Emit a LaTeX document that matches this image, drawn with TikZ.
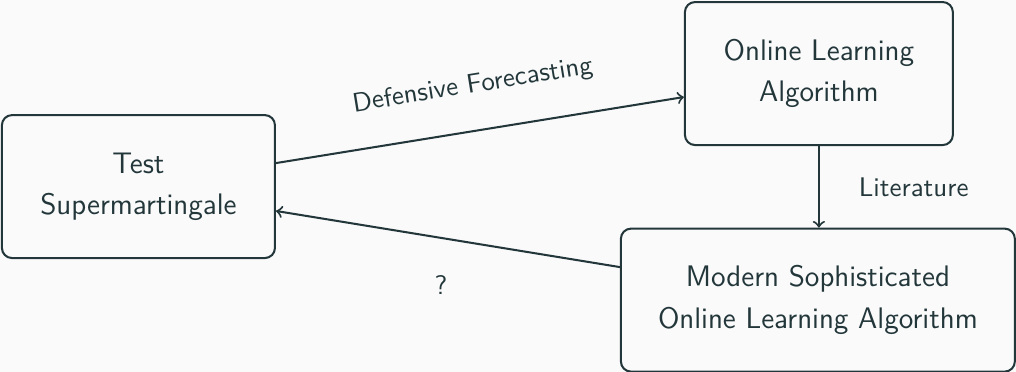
\documentclass[tikz,border=0pt]{standalone}
\usepackage{fontspec}
\usetikzlibrary{arrows}
\definecolor{mDarkTeal}{HTML}{23373B}
\definecolor{mBackground}{HTML}{FAFAFA}
\begin{document}
\begin{tikzpicture}[->,>=to,auto,thick,draw=mDarkTeal,text=mDarkTeal,font=\sffamily\fontsize{10.6}{13}\selectfont]
  \tikzstyle{box}=[draw=mDarkTeal,rounded corners=4pt,align=center,minimum height=56.3pt,
                   font=\sffamily\fontsize{11.7}{16.3}\selectfont]

  \fill[mBackground,-] (0,0) rectangle (400pt,146.46pt);
  \useasboundingbox (0,0) rectangle (400pt,146.46pt);

  \node[box,minimum width=107.5pt] (TS)    at (54.5pt,73pt)    {Test\\Supermartingale};
  \node[box,minimum width=105.5pt] (OLA)   at (322.4pt,117.5pt) {Online Learning\\Algorithm};
  \node[box,minimum width=155.1pt] (MSOLA) at (322pt,28.3pt)   {Modern Sophisticated\\Online Learning Algorithm};

  \path ([yshift=9.25pt]TS.east)    edge node[sloped,above=9pt] {Defensive Forecasting} ([yshift=-9.25pt]OLA.west)
        (OLA.south)                 edge node[right=12pt] {Literature} (OLA.south |- MSOLA.north)
        ([yshift=13pt]MSOLA.west)   edge node[pos=0.52,below=11pt] {?} ([yshift=-9.6pt]TS.east);
\end{tikzpicture}
\end{document}
